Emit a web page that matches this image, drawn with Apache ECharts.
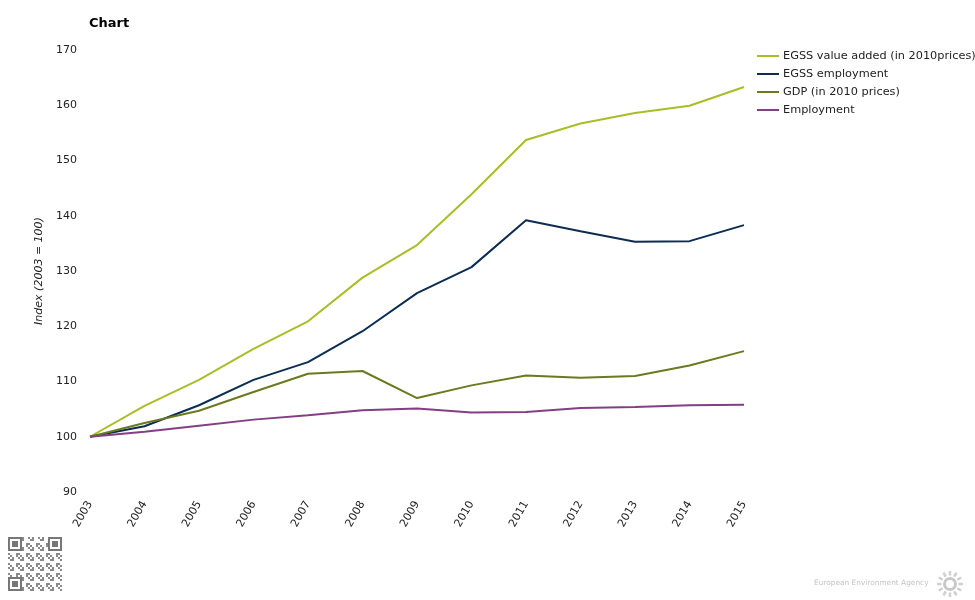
<!DOCTYPE html>
<html>
<head>
<meta charset="utf-8">
<script src="https://cdn.jsdelivr.net/npm/echarts@6/dist/echarts.min.js"></script>
<style>html,body{margin:0;padding:0;background:#fff}#main{width:975px;height:600px}</style>
</head>
<body>
<div id="main"></div>
<script>
var years = ['2003','2004','2005','2006','2007','2008','2009','2010','2011','2012','2013','2014','2015'];
var egssValueAdded = [100, 105.6, 110.3, 115.9, 120.9, 128.8, 134.7, 143.9, 153.7, 156.7, 158.6, 159.9, 163.3];
var egssEmployment = [100, 101.9, 105.7, 110.3, 113.5, 119.1, 126.0, 130.7, 139.2, 137.2, 135.3, 135.4, 138.3];
var gdp = [100, 102.5, 104.7, 108.1, 111.4, 111.9, 107.0, 109.3, 111.1, 110.7, 111.0, 112.9, 115.5];
var employment = [100, 100.9, 102.0, 103.1, 103.9, 104.8, 105.1, 104.4, 104.5, 105.2, 105.4, 105.7, 105.8];
var seriesNames = ['EGSS value added (in 2010prices)', 'EGSS employment', 'GDP (in 2010 prices)', 'Employment'];
var yTicks = {min: 90, max: 170, interval: 10};

var colors = ['#a9bd27', '#0b2d52', '#6b7a1f', '#843f84'];
var font = 'DejaVu Sans';
var chart = echarts.init(document.getElementById('main'), null, {renderer: 'canvas'});
var dataSets = [egssValueAdded, egssEmployment, gdp, employment];

// decorative QR-like block
var qrG = [];
for (var i = 0; i < 27; i++) {
  for (var j = 0; j < 27; j++) {
    if (((i * 7 + j * 13 + i * j) % 5) < 2) {
      qrG.push({type:'rect', shape:{x:8 + j*2, y:537 + i*2, width:2, height:2}, style:{fill:'#8a8a8a'}});
    }
  }
}
[[8,537],[48,537],[8,577]].forEach(function(p){
  qrG.push({type:'rect', shape:{x:p[0],y:p[1],width:14,height:14}, style:{fill:'#fff'}});
  qrG.push({type:'rect', shape:{x:p[0]+1,y:p[1]+1,width:12,height:12}, style:{fill:'#fff', stroke:'#777', lineWidth:2}});
  qrG.push({type:'rect', shape:{x:p[0]+4,y:p[1]+4,width:6,height:6}, style:{fill:'#777'}});
});
// sun-like logo
var sun = [{type:'circle', shape:{cx:950, cy:584, r:5.5}, style:{fill:'none', stroke:'#c8c8c8', lineWidth:3}}];
for (var k = 0; k < 12; k++) {
  var a = k * Math.PI / 6;
  sun.push({type:'line', shape:{x1:950 + Math.cos(a)*8.5, y1:584 + Math.sin(a)*8.5, x2:950 + Math.cos(a)*13, y2:584 + Math.sin(a)*13},
    style:{stroke:'#cfcfcf', lineWidth:2.5}});
}

chart.setOption({
  animation: false,
  color: colors,
  title: {
    text: 'Chart', left: 84, top: 12,
    textStyle: {fontFamily: font, fontSize: 13, fontWeight: 'bold', color: '#000'}
  },
  legend: {
    orient: 'vertical', left: 752, top: 44,
    icon: 'rect', itemWidth: 22, itemHeight: 2, itemGap: 4,
    textStyle: {fontFamily: font, fontSize: 11.3, color: '#222', lineHeight: 14, padding: [0,0,0,-1]},
    data: seriesNames
  },
  grid: {left: 90, right: 231, top: 50, bottom: 108, containLabel: false},
  xAxis: {
    type: 'category', data: years, boundaryGap: false,
    axisLine: {show: false}, axisTick: {show: false}, splitLine: {show: false},
    axisLabel: {rotate: 60, margin: 10, fontFamily: font, fontSize: 11, color: '#222'}
  },
  yAxis: {
    type: 'value', min: yTicks.min, max: yTicks.max, interval: yTicks.interval,
    name: 'Index (2003 = 100)', nameLocation: 'middle', nameGap: 45,
    nameTextStyle: {fontFamily: font, fontSize: 11, fontStyle: 'italic', color: '#222'},
    axisLine: {show: false}, axisTick: {show: false}, splitLine: {show: false},
    axisLabel: {margin: 13, fontFamily: font, fontSize: 11, color: '#222'}
  },
  series: seriesNames.map(function(n, i){
    return {name: n, type: 'line', data: dataSets[i], symbol: 'none',
      lineStyle: {width: 2, color: colors[i]}, itemStyle: {color: colors[i]}};
  }),
  graphic: qrG.concat(sun).concat([
    {type:'text', left: 814, top: 580, style:{text:'European Environment Agency', fill:'#c4c4c4', font:'7.4px ' + font}}
  ])
});
</script>
</body>
</html>
